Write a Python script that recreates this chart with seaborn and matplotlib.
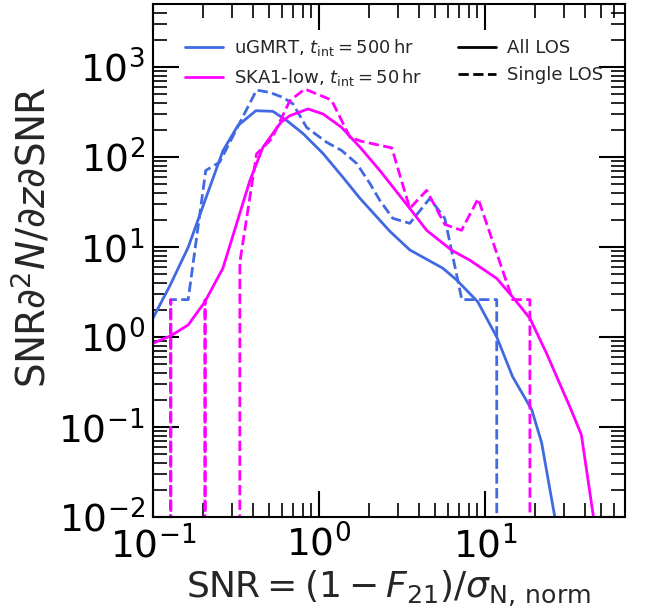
import numpy as np
import pandas as pd
import matplotlib
matplotlib.use("Agg")
import matplotlib.pyplot as plt
from matplotlib.lines import Line2D
import seaborn as sns

# uGMRT, t_int = 500 hr, all lines of sight
ugmrt_all_x = [0.1, 0.127, 0.163, 0.206, 0.264, 0.325, 0.417, 0.528, 0.641, 0.802, 1.06, 1.40,
               1.77, 2.68, 3.53, 5.58, 6.78, 9.07, 11.8, 14.7, 19.2, 22.0, 27.0]
ugmrt_all_y = [1.62, 3.77, 9.9, 32.9, 117, 223, 326, 321, 253, 182, 109, 59,
               34.6, 14.9, 9.27, 5.81, 4.28, 2.46, 1.0, 0.363, 0.155, 0.067, 0.008]

# uGMRT, single line of sight (zeros = empty bins)
ugmrt_single_x = [0.1, 0.128, 0.163, 0.208, 0.252, 0.421, 0.507, 0.607, 0.697, 0.843, 1.11,
                  1.37, 1.69, 2.03, 2.33, 2.79, 3.53, 4.66, 5.74, 7.27, 11.8, 14.7]
ugmrt_single_y = [0, 2.6, 2.6, 70.7, 87.3, 553, 520, 458, 390, 213, 146,
                  118, 84.5, 50.7, 32.9, 20.8, 18.3, 34.6, 20.8, 2.6, 2.6, 0]

# SKA1-low, t_int = 50 hr, all lines of sight
ska_all_x = [0.1, 0.128, 0.163, 0.205, 0.264, 0.384, 0.46, 0.59, 0.668, 0.859, 1.06, 1.37, 1.77,
             2.33, 3.53, 4.46, 6.31, 8.12, 11.8, 14.7, 18.7, 23.5, 32.5, 38.2, 46.0]
ska_all_y = [0.852, 1.03, 1.36, 2.44, 5.81, 54.8, 128, 242, 287, 341, 300, 213, 128,
             70.7, 26.8, 15.3, 9.2, 7.13, 4.47, 2.79, 1.61, 0.665, 0.169, 0.082, 0.008]

# SKA1-low, single line of sight
ska_single_x = [0.1, 0.128, 0.163, 0.206, 0.264, 0.334, 0.421, 0.519, 0.668, 0.823, 1.19,
                1.54, 1.81, 2.75, 3.53, 4.46, 5.74, 7.24, 9.12, 14.7, 18.7, 23.5]
ska_single_y = [0, 2.6, 0, 2.6, 0, 6.77, 108, 159, 421, 568, 429,
                165, 149, 126, 26.8, 42.5, 17.8, 15.3, 34.4, 2.6, 2.6, 0]

tel_labels = [r"uGMRT, $t_{\rm int} = 500\,{\rm hr}$", r"SKA1-low, $t_{\rm int} = 50\,{\rm hr}$"]
los_labels = ["All LOS", "Single LOS"]
colors = ["royalblue", "magenta"]

frames = []
for tel, los, xs, ys in [(tel_labels[0], los_labels[0], ugmrt_all_x, ugmrt_all_y),
                         (tel_labels[0], los_labels[1], ugmrt_single_x, ugmrt_single_y),
                         (tel_labels[1], los_labels[0], ska_all_x, ska_all_y),
                         (tel_labels[1], los_labels[1], ska_single_x, ska_single_y)]:
    frames.append(pd.DataFrame({"snr": xs, "dist": ys, "tel": tel, "los": los}))
data = pd.concat(frames, ignore_index=True)

sns.set_style("ticks")
plt.rcParams["font.family"] = ["DejaVu Sans"]
plt.rcParams["mathtext.fontset"] = "dejavusans"

fig = plt.figure(figsize=(6.46, 6.12), dpi=100)
ax = fig.add_axes([0.2368, 0.1552, 0.7307, 0.8383])

sns.lineplot(data=data, x="snr", y="dist", hue="tel", style="los",
             hue_order=tel_labels, style_order=los_labels,
             palette=dict(zip(tel_labels, colors)),
             dashes={"All LOS": "", "Single LOS": (3.7, 1.6)},
             estimator=None, sort=False, lw=2, legend=False, ax=ax)

ax.set_xscale("log")
ax.set_yscale("log")
ax.set_xlim(0.1, 70)
ax.set_ylim(1e-2, 5e3)

for sp in ax.spines.values():
    sp.set_visible(True)
    sp.set_color("black")
    sp.set_linewidth(1.5)
ax.tick_params(which="both", direction="in", top=True, right=True, colors="black")
ax.tick_params(which="major", length=19, width=1.5, labelsize=27, pad=6)
ax.tick_params(which="minor", length=10, width=1.2)

ax.set_xlabel(r"${\rm SNR} = (1 - F_{21})/\sigma_{\rm N,\,norm}$", fontsize=26)
ax.set_ylabel(r"${\rm SNR}\partial^2 N/\partial z \partial {\rm SNR}$", fontsize=28)
ax.xaxis.set_label_coords(0.5, -0.1)
ax.yaxis.set_label_coords(-0.21, 0.545)

handles = [Line2D([], [], color=colors[0], lw=2),
           Line2D([], [], color=colors[1], lw=2),
           Line2D([], [], color="black", lw=2),
           Line2D([], [], color="black", lw=2, ls="--")]
ax.legend(handles, tel_labels + los_labels, ncol=2, frameon=False, fontsize=13,
          loc="upper right", bbox_to_anchor=(0.968, 0.95), borderaxespad=0,
          handlelength=2.1, handletextpad=0.6, columnspacing=1.95)

fig.savefig("out.png", dpi=100)
